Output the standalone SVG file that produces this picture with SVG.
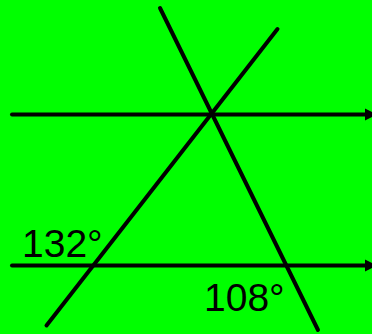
<svg xmlns="http://www.w3.org/2000/svg" width="372" height="334" viewBox="0 0 372 334">
<style>
.ln{stroke:#000;stroke-width:4;stroke-linecap:round;fill:none}
.lbl{font-family:"Liberation Sans",Arial,sans-serif;font-size:39px;fill:#000}
</style>
<defs>
<marker id="ah" markerUnits="userSpaceOnUse" markerWidth="12" markerHeight="14" refX="2" refY="7" orient="auto">
<path d="M0,1 L12,7 L0,13 Z" fill="#000"/>
</marker>
</defs>
<rect width="372" height="334" fill="#00ff00"/>
<g id="connectors">
<line class="ln" x1="12" y1="114.5" x2="367" y2="114.5" marker-end="url(#ah)"/>
<line class="ln" x1="12" y1="265.5" x2="367" y2="265.5" marker-end="url(#ah)"/>
<line class="ln" x1="160" y1="8" x2="318" y2="330"/>
<line class="ln" x1="277.5" y1="29" x2="46.5" y2="325.5"/>
</g>
<g id="label-132"><text class="lbl" x="22" y="257">132°</text></g>
<g id="label-108"><text class="lbl" x="204" y="311">108°</text></g>
</svg>
